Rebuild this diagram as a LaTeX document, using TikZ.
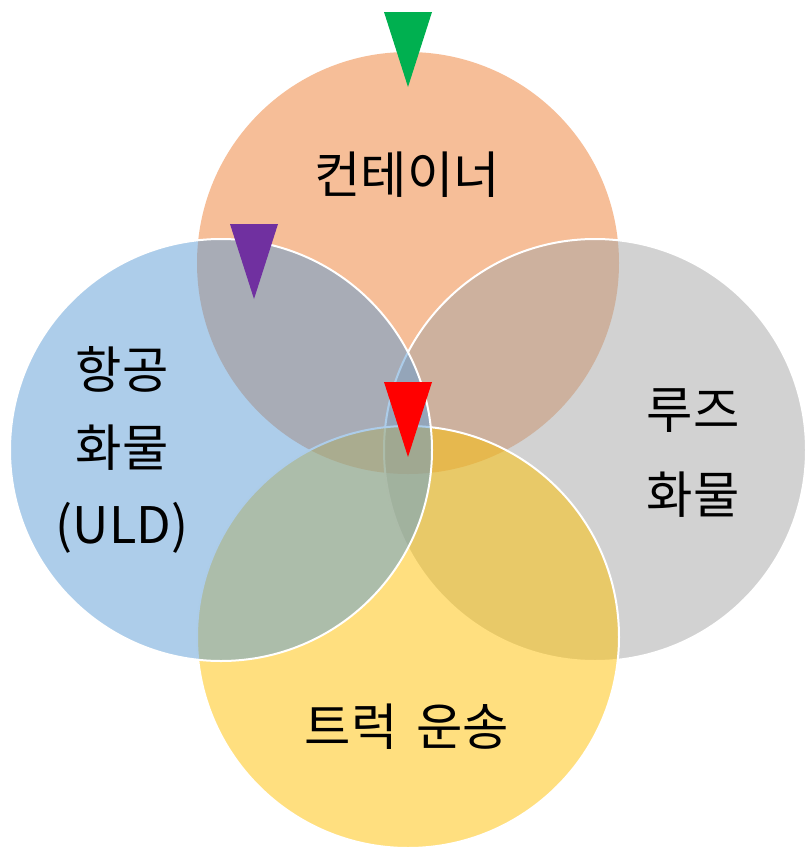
\documentclass[tikz,border=0pt]{standalone}
\usepackage{fontspec}
\setmainfont{Noto Sans CJK KR}
\definecolor{accorange}{HTML}{ED7D31}
\definecolor{accblue}{HTML}{5B9BD5}
\definecolor{accgray}{HTML}{A5A5A5}
\definecolor{accgold}{HTML}{FFC000}
\definecolor{pingreen}{HTML}{00B050}
\definecolor{pinpurple}{HTML}{7030A0}
\tikzstyle{venn}=[circle, inner sep=0pt, minimum size=126.6mm, fill opacity=.5]
\tikzstyle{rim}=[draw=white, line width=.6mm]
\tikzstyle{setlabel}=[align=center, font=\fontsize{43}{66}\selectfont]
\newcommand{\venn}{\node[venn]}
\newcommand{\pin}[2]{\fill[#1] (#2) ++(-24,0) -- ++(48,0) -- ++(-24,75) -- cycle;}

\begin{document}
\begin{tikzpicture}[x=0.3mm, y=-0.3mm]
\useasboundingbox (0,0) rectangle (807,851);
\venn[fill=accorange] (box) at (408,263) {};
\venn[fill=accgray, rim] (loose) at (595,450) {};
\venn[fill=accgold, rim] (truck) at (408,637) {};
\venn[fill=accblue, rim] (uld) at (221,450) {};
\node[setlabel] (boxlbl) at (407,175) {컨테이너};
\node[setlabel] (uldlbl) at (122,450) {항공\\화물\\(ULD)};
\node[setlabel, font=\fontsize{43}{72}\selectfont] (looselbl) at (693,453) {루즈\\화물};
\node[setlabel] (trucklbl) at (407,727) {트럭\hspace{.15em} 운송};
\coordinate (g) at (408,12);
\coordinate (p) at (254,224);
\coordinate (r) at (408,382);
\pin{pingreen}{g}
\pin{pinpurple}{p}
\pin{red}{r}
\end{tikzpicture}
\end{document}
